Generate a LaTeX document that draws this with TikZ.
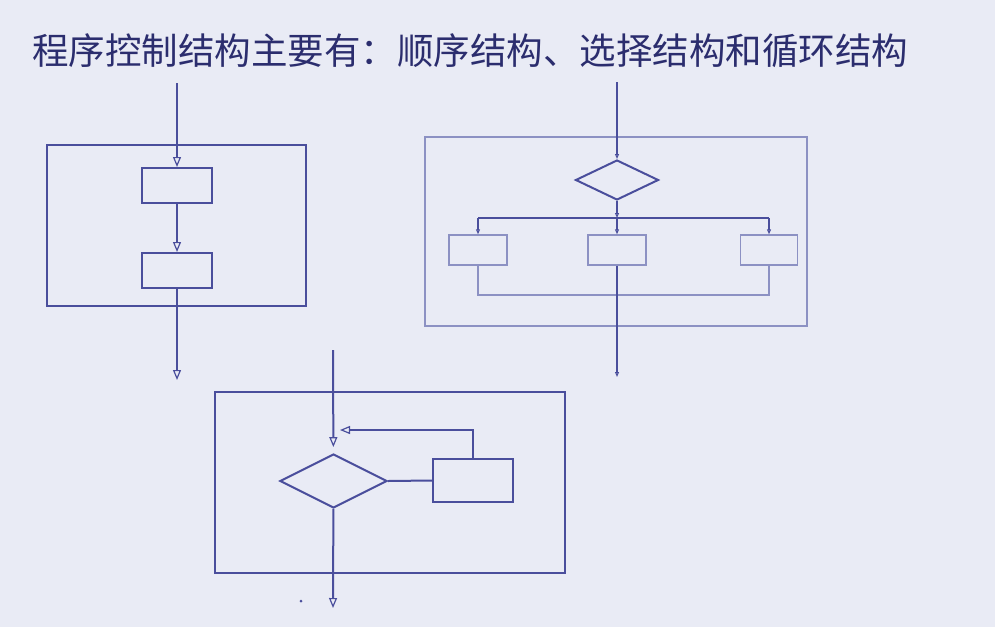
\documentclass[tikz,border=0pt]{standalone}
\usepackage{fontspec}
\newfontfamily\cjk{Noto Sans CJK SC}
\usetikzlibrary{shapes.geometric,arrows.meta}
\definecolor{bg}{RGB}{233,235,245}
\definecolor{ink}{RGB}{74,78,156}
\definecolor{pale}{RGB}{140,145,195}
\definecolor{title}{RGB}{43,45,110}
\begin{document}
\begin{tikzpicture}[x=1pt, y=-1pt, line width=2pt, draw=ink,
  tip/.style = {-{Triangle[open, length=10pt, width=8pt, line width=1.2pt]}},
  small/.style = {-{Triangle[open, length=5pt, width=4pt, line width=1pt]}},
  frame/.style = {draw=ink, inner sep=0, line width=1.8pt},
  box/.style = {draw=ink, inner sep=0, line width=2pt, minimum width=70pt, minimum height=35pt},
  choice/.style = {draw=ink, diamond, inner sep=0, line width=2pt},
  pbox/.style = {draw=pale, line width=1.4pt, inner sep=0, minimum width=58pt, minimum height=30pt}]
\fill[bg] (0,0) rectangle (995,627);
\useasboundingbox (0,0) rectangle (995,627);
\node[anchor=west, text=title, font=\cjk\fontsize{36.5}{40}\selectfont] (head) at (28,51) {程序控制结构主要有：顺序结构、选择结构和循环结构};
% sequence
\node[frame, minimum width=259pt, minimum height=161pt] (seqframe) at (176.5,225.5) {};
\coordinate (seqin) at (177,83);
\node[box] (s1) at (177,185.5) {};
\node[box] (s2) at (177,270.5) {};
\coordinate (seqout) at (177,380);
\draw[tip, ink] (seqin) -- (s1);
\draw[tip, ink] (s1) -- (s2);
\draw[tip, ink] (s2) -- (seqout);
% selection
\node[frame, draw=pale, line width=1.4pt, minimum width=382pt, minimum height=189pt] (selframe) at (616,231.5) {};
\coordinate (selin) at (617,82);
\node[choice, minimum width=83pt, minimum height=40pt] (d) at (617,180) {};
\coordinate (bar) at (617,218);
\coordinate (barl) at (478,218);
\coordinate (barr) at (769,218);
\node[pbox] (a) at (478,250) {};
\node[pbox] (b) at (617,250) {};
\node[pbox, minimum width=57pt] (c) at (769,250) {};
\coordinate (selout) at (617,377);
\draw[small, ink] (selin) -- (d);
\draw[small, ink] (d) -- (bar);
\draw[ink] (barl) -- (barr);
\draw[small, ink] (barl) -- (a);
\draw[small, ink] (bar) -- (b);
\draw[small, ink] (barr) -- (c);
\draw[pale, line width=1.4pt] (a.south) |- (617,295) -| (c.south);
\draw[small, ink] (b) -- (selout);
% loop
\node[frame, minimum width=350pt, minimum height=181pt] (loopframe) at (390,482.5) {};
\coordinate (loopin) at (333,350);
\node[choice, minimum width=107pt, minimum height=54pt] (ld) at (333.5,481) {};
\node[box, minimum width=80pt, minimum height=43pt] (lb) at (473,480.5) {};
\coordinate (back) at (340,430);
\coordinate (loopout) at (333,608);
\draw[tip, ink, shorten >=6pt] (loopin) -- (ld);
\draw[ink] (ld.east) -- (lb.west);
\draw[tip, ink] (lb.north) |- (back);
\draw[tip, ink] (ld) -- (loopout);
\fill[ink] (301,601) circle (1.5);
\end{tikzpicture}
\end{document}
